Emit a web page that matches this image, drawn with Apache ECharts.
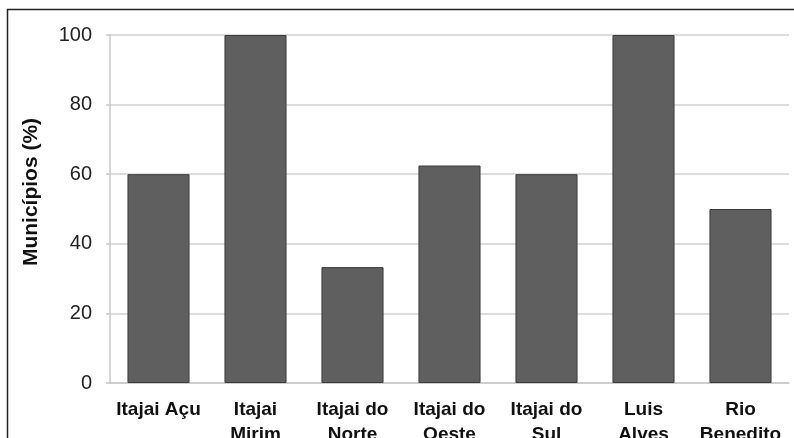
<!DOCTYPE html>
<html>
<head>
<meta charset="utf-8">
<script src="https://cdn.jsdelivr.net/npm/echarts@6/dist/echarts.min.js"></script>
<style>
  html, body { margin: 0; padding: 0; background: #fff; }
  #chart { width: 794px; height: 438px; }
</style>
</head>
<body>
<div id="chart"></div>
<script>
// River basins and share of municipalities (%)
const basins = ['Itajai Açu', 'Itajai\nMirim', 'Itajai do\nNorte', 'Itajai do\nOeste', 'Itajai do\nSul', 'Luis\nAlves', 'Rio\nBenedito'];
const sharePct = [60, 100, 33.3, 62.5, 60, 100, 50];
const yTicks = [0, 20, 40, 60, 80, 100];

const chart = echarts.init(document.getElementById('chart'));
chart.setOption({
  animation: false,
  backgroundColor: '#fff',
  graphic: [
    // frame around the figure
    { type: 'line', shape: { x1: 7, y1: 9.5, x2: 794, y2: 9.5 }, style: { stroke: '#222', lineWidth: 1.5 } },
    { type: 'line', shape: { x1: 7.5, y1: 9, x2: 7.5, y2: 438 }, style: { stroke: '#222', lineWidth: 1.5 } }
  ],
  grid: { left: 110, right: 5, top: 35, bottom: 55, outerBoundsMode: 'none', containLabel: false },
  xAxis: {
    type: 'category',
    data: basins,
    axisLine: { lineStyle: { color: '#c8c8c8', width: 1.5 } },
    axisTick: { show: false },
    axisLabel: {
      color: '#111', fontFamily: 'Liberation Sans, Arial', fontWeight: 'bold',
      fontSize: 19, lineHeight: 25, margin: 14, interval: 0
    }
  },
  yAxis: {
    type: 'value',
    min: 0, max: 100, interval: 20,
    name: 'Municípios (%)',
    nameLocation: 'middle',
    nameGap: 68,
    nameTextStyle: {
      color: '#111', fontFamily: 'Liberation Sans, Arial', fontWeight: 'bold', fontSize: 21,
      padding: [0, 0, 0, 34]
    },
    axisLine: { show: true, lineStyle: { color: '#c8c8c8', width: 1.5 } },
    axisTick: { show: true, length: 4, lineStyle: { color: '#c8c8c8', width: 1.5 } },
    axisLabel: {
      color: '#222', fontFamily: 'Liberation Sans, Arial', fontSize: 20, margin: 18,
      formatter: v => yTicks.includes(v) ? String(v) : ''
    },
    splitLine: { lineStyle: { color: '#d2d2d2', width: 1.5 } }
  },
  series: [{
    type: 'bar',
    data: sharePct,
    barWidth: '64%',
    itemStyle: { color: '#5f5f5f', borderColor: '#3c3c3c', borderWidth: 1 }
  }]
});
</script>
</body>
</html>
